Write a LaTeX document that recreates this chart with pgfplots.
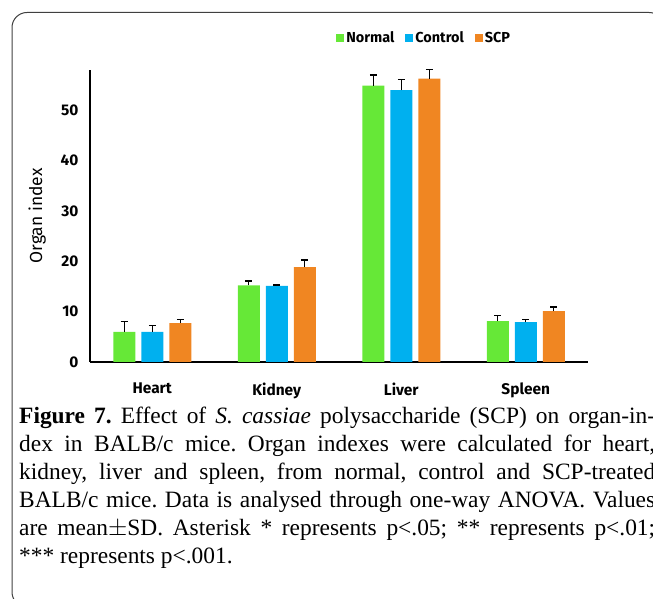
\documentclass[border=0pt]{standalone}
\usepackage{pgfplots}
\pgfplotsset{compat=1.18}
\usepackage{fontspec}
\setmainfont{Liberation Serif}
\newfontfamily\chartfont{Fira Sans}
\definecolor{cN}{HTML}{66E837}
\definecolor{cC}{HTML}{00B0EF}
\definecolor{cS}{HTML}{F08622}
\begin{document}
\frenchspacing
\begin{tikzpicture}[x=1bp,y=1bp]
\useasboundingbox (0bp,0bp) rectangle (653bp,599bp);
\clip (0bp,0bp) rectangle (653bp,599bp);
\draw[line width=1bp, black!75, rounded corners=15bp] (12bp,-8bp) rectangle (664bp,586.5bp);
\begin{axis}[
  at={(90bp,237bp)}, anchor=south west,
  scale only axis, width=498bp, height=292bp,
  xmin=-0.5, xmax=3.5, ymin=0, ymax=58,
  axis lines*=left,
  axis line style={line width=1.1bp, black},
  clip=false,
  xtick={0,1,2,3}, xticklabels={Heart,Kidney,Liver,Spleen},
  ytick={0,10,20,30,40,50},
  major tick length=0pt,
  /pgf/number format/assume math mode=true,
  tick label style={font=\chartfont\bfseries\fontsize{15.5}{15.5}\selectfont},
  yticklabel style={xshift=-8bp},
  xticklabel style={yshift=-17bp},
  ylabel={Organ index},
  ylabel style={at={(axis description cs:-0.106,0.5)}, anchor=center, font=\chartfont\fontsize{17.5}{17.5}\selectfont},
  ybar=6bp, bar width=22bp,
  legend columns=3,
  legend style={at={(axis description cs:0.85,1.11)}, anchor=east, draw=none, fill=none,
    font=\chartfont\bfseries\fontsize{14.5}{14.5}\selectfont, inner sep=1bp,
    /tikz/every even column/.append style={column sep=9bp}},
  legend image code/.code={\fill[#1] (0bp,-4bp) rectangle (8bp,4bp);},
  error bars/y dir=plus, error bars/y explicit,
  error bars/error bar style={line width=1.3bp, black},
  error bars/error mark options={rotate=90, mark size=3.5bp, line width=1.3bp, black},
]
\addplot[fill=cN, draw=none] coordinates {(0,6.0) +- (0,2.1) (1,15.2) +- (0,0.9) (2,54.9) +- (0,2.1) (3,8.1) +- (0,1.2)};
\addplot[fill=cC, draw=none] coordinates {(0,6.0) +- (0,1.3) (1,15.1) +- (0,0.2) (2,54.0) +- (0,2.1) (3,7.9) +- (0,0.6)};
\addplot[fill=cS, draw=none] coordinates {(0,7.7) +- (0,0.8) (1,18.85) +- (0,1.4) (2,56.3) +- (0,1.8) (3,10.1) +- (0,0.8)};
\legend{Normal,Control,SCP}
\end{axis}
\node[anchor=north west, inner sep=0pt, font=\fontsize{23.5}{28}\selectfont] at (19bp,192bp) {\vbox{%
\hbox to 636bp{\textbf{Figure 7.} Effect of \textit{S. cassiae} polysaccharide (SCP) on organ-in-}
\hbox to 636bp{dex in BALB/c mice. Organ indexes were calculated for heart,}
\hbox to 636bp{kidney, liver and spleen, from normal, control and SCP-treated}
\hbox to 636bp{BALB/c mice. Data is analysed through one-way ANOVA. Values}
\hbox to 636bp{are mean$\pm$SD. Asterisk * represents p<.05; ** represents p<.01;}
\hbox{*** represents p<.001.}}};
\end{tikzpicture}
\end{document}
